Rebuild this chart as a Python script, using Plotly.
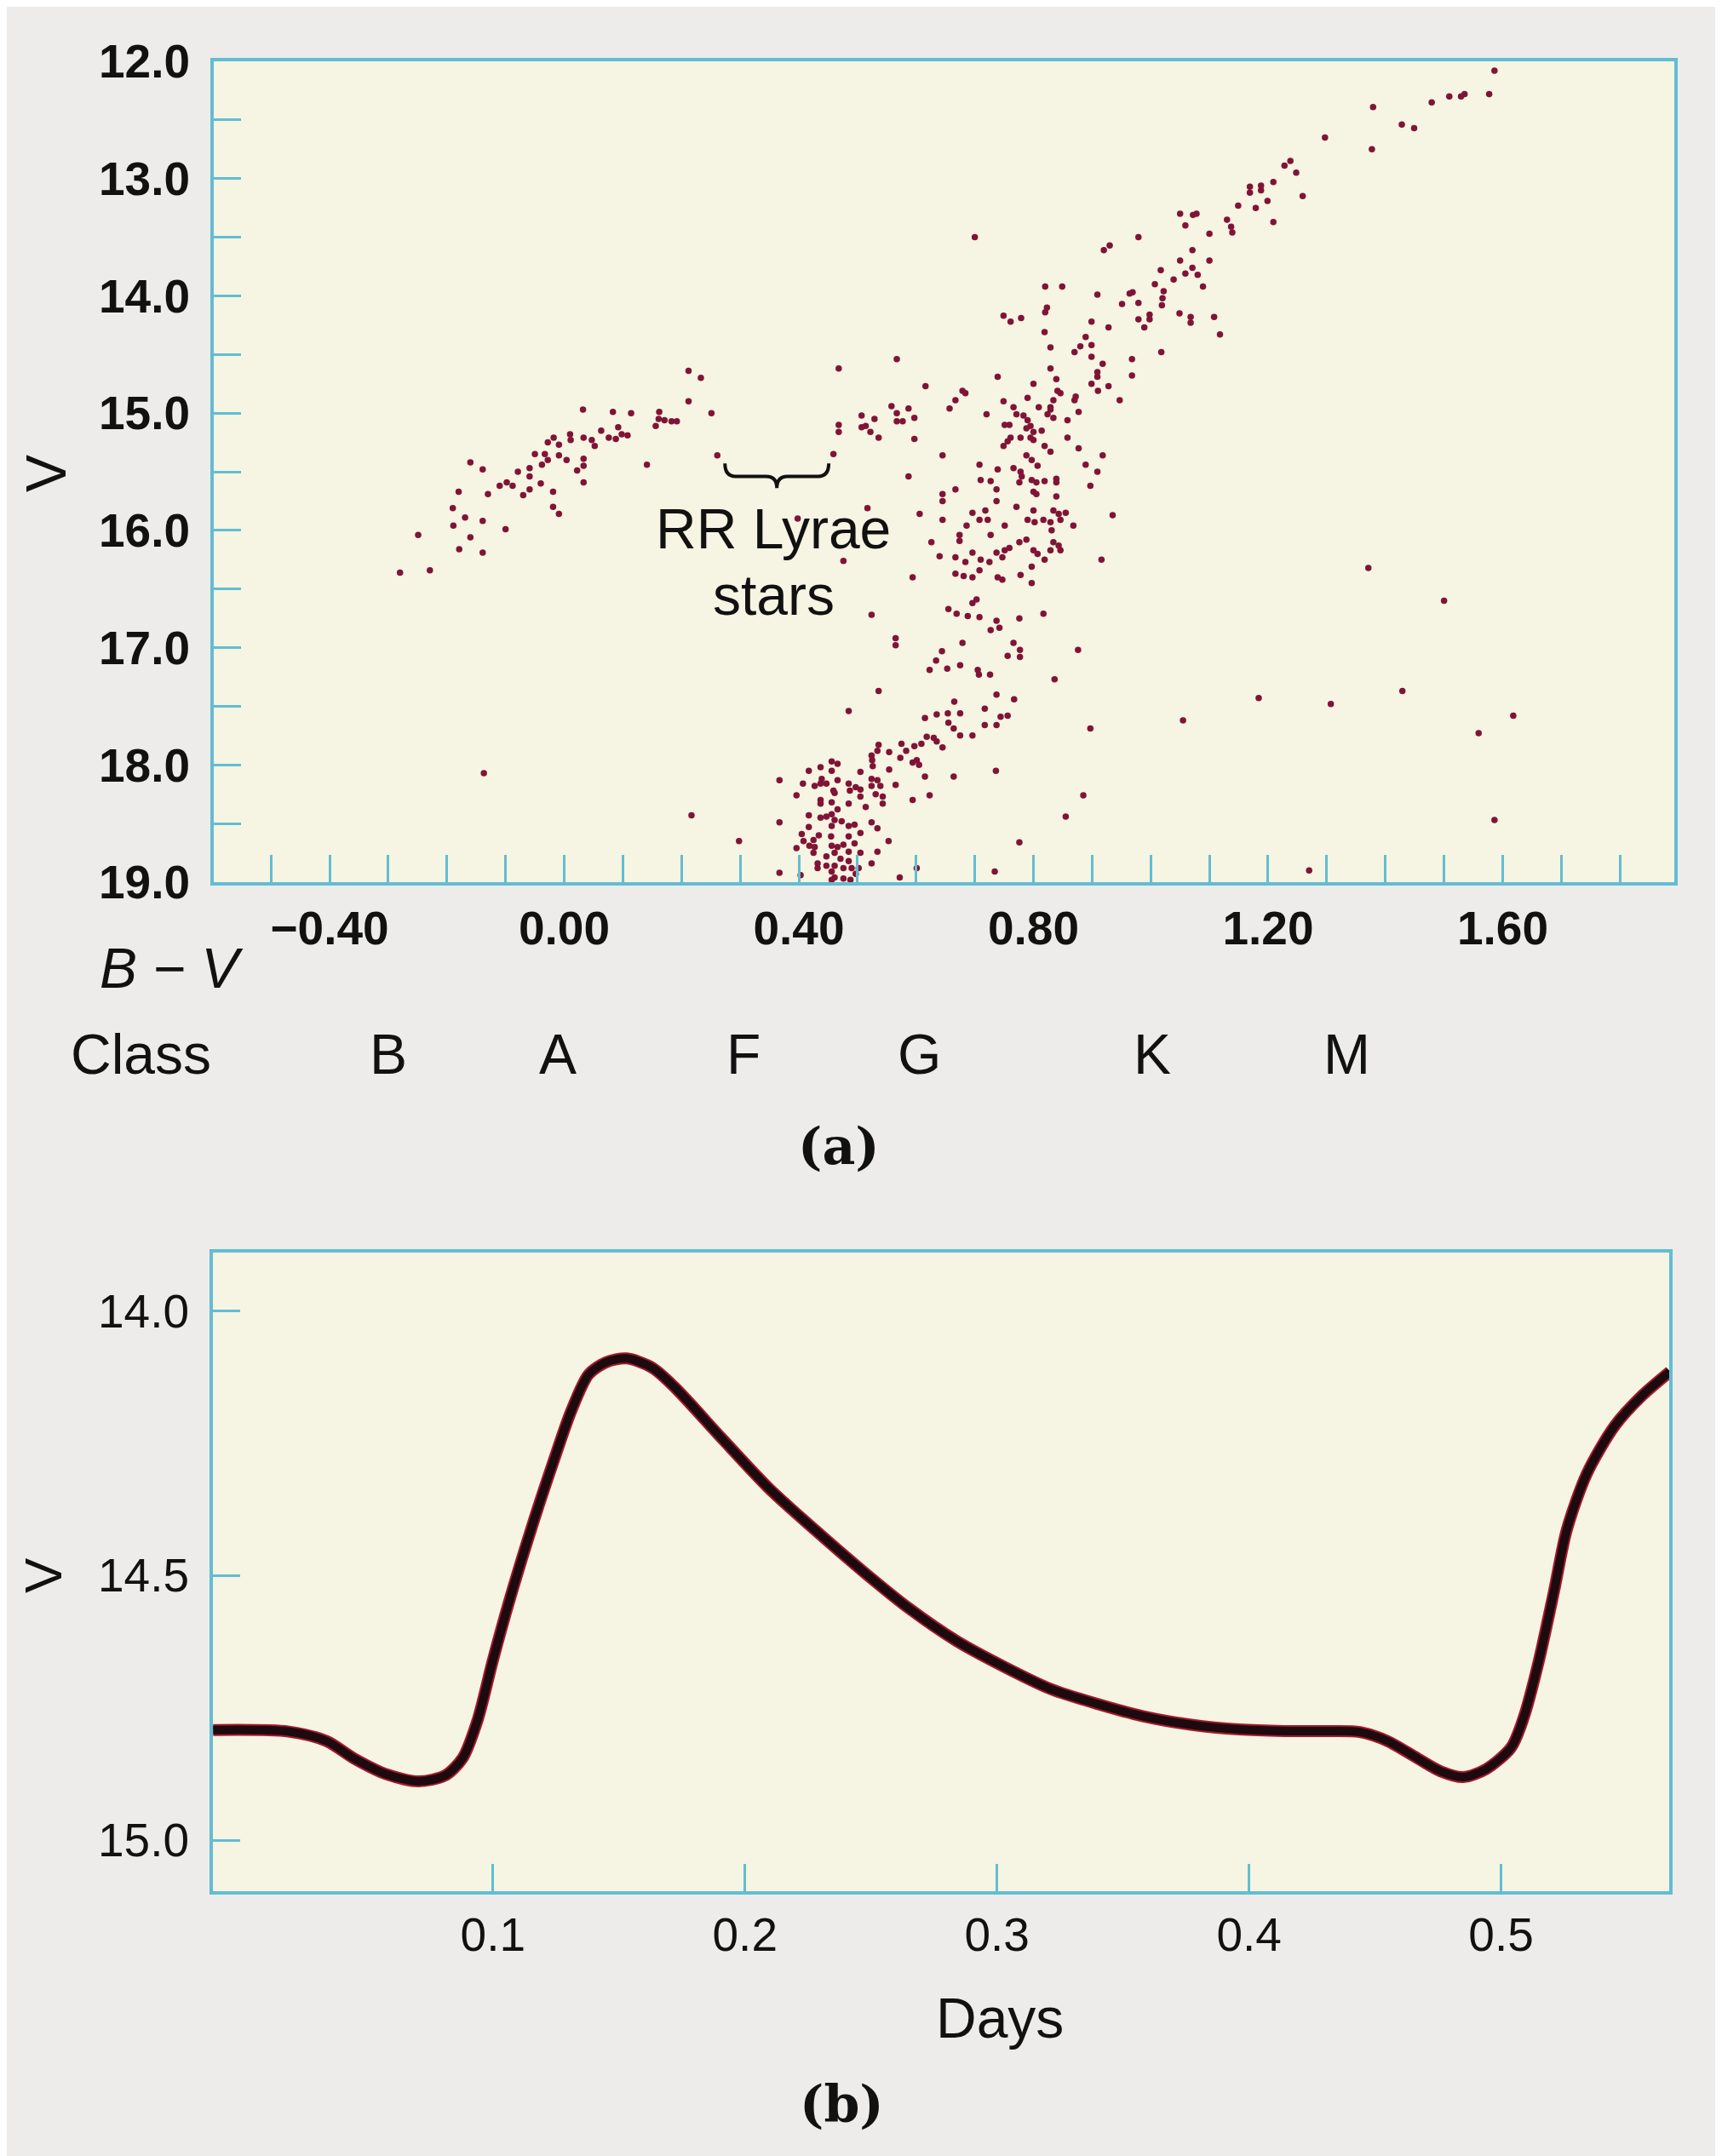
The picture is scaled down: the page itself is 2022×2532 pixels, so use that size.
import plotly.graph_objects as go

# ---------------- DATA ----------------
# (a) colour-magnitude diagram: (B-V, V) pairs
horizontal_branch = [
    (0.212,14.64),(0.233,14.70),(0.212,14.90),(0.251,15.00),(0.261,15.36),(0.141,15.44),(0.032,14.97),(0.083,14.99),(0.114,15.00),
    (0.162,14.99),(0.161,15.05),(0.156,15.11),(0.171,15.06),(0.183,15.07),(0.192,15.07),
    (0.063,15.15),(0.092,15.12),(0.076,15.21),(0.088,15.22),(0.098,15.18),(0.108,15.19),
    (0.033,15.21),(0.047,15.23),(0.052,15.28),(0.010,15.18),(0.011,15.23),
    (-0.018,15.21),(-0.028,15.25),(-0.009,15.27),
    (-0.050,15.35),(-0.033,15.35),(-0.028,15.40),(-0.038,15.44),(-0.009,15.36),(0.004,15.40),
    (0.033,15.39),(0.033,15.45),(0.022,15.49),(0.033,15.59),
    (-0.059,15.47),(-0.059,15.54),(-0.079,15.50),
    (-0.110,15.62),(-0.098,15.59),(-0.088,15.62),
    (-0.040,15.60),(-0.059,15.65),(-0.070,15.70),
    (-0.160,15.42),(-0.139,15.48),(-0.130,15.69),(-0.180,15.67),
    (-0.019,15.67),(-0.019,15.80),(-0.009,15.86),
    (-0.190,15.81),(-0.169,15.89),(-0.139,15.92),(-0.189,15.96),(-0.100,15.99),
    (-0.160,16.06),(-0.179,16.16),(-0.139,16.19),
    (-0.249,16.04),(-0.280,16.36),(-0.229,16.34),(0.398,15.90),
]
red_horizontal_branch = [
    (0.507,15.02),(0.529,15.05),(0.514,15.11),(0.507,15.12),(0.522,15.16),(0.536,15.21),(0.558,14.94),(0.567,15.00),
    (0.567,15.07),(0.577,15.07),(0.587,14.96),(0.597,15.04),(0.597,15.22),(0.468,15.10),(0.468,15.16),(0.459,15.35),
    (0.587,15.54),(0.645,15.36),(0.567,14.54),(0.468,14.62),(0.616,14.77),(0.679,14.81),(0.684,14.83),(0.667,14.89),
    (0.657,14.96),
]
upper_giant_branch = [
    (1.586,12.08),(1.535,12.28),(1.529,12.30),(1.509,12.30),(1.479,12.35),(1.577,12.28),(1.379,12.39),(1.428,12.54),
    (1.449,12.57),(1.297,12.65),(1.377,12.75),(1.238,12.85),(1.228,12.89),(1.248,12.95),(1.259,13.15),(1.209,13.03),
    (1.188,13.06),(1.188,13.10),(1.169,13.07),(1.169,13.12),(1.199,13.19),(1.179,13.25),(1.149,13.23),(1.209,13.37),
    (1.130,13.35),(1.137,13.41),(1.139,13.46),(1.050,13.30),(1.072,13.31),(1.078,13.30),(1.059,13.40),(1.100,13.47),
    (0.979,13.50),(0.930,13.57),(0.920,13.61),(1.071,13.61),(1.050,13.70),(1.100,13.70),(1.017,13.78),(1.059,13.81),
    (1.071,13.76),(1.080,13.82),(1.039,13.86),(1.089,13.92),(1.007,13.90),(1.022,13.96),(1.020,14.02),(1.019,14.08),
    (0.964,13.98),(0.969,13.97),(0.951,14.07),(0.979,14.06),(0.909,13.99),(0.820,13.92),(0.849,13.92),(0.823,14.10),
    (0.820,14.14),(0.749,14.17),(0.761,14.22),(0.779,14.19),(0.998,14.16),(0.998,14.20),(0.979,14.20),(1.049,14.15),
    (1.068,14.18),(1.068,14.23),(1.108,14.18),(0.899,14.22),(0.700,13.50),
    (0.819,14.31),(0.889,14.35),(0.899,14.42),(0.928,14.27),(0.989,14.27),(1.118,14.33),(0.829,14.44),(0.870,14.48),
    (0.880,14.43),(0.899,14.52),(0.918,14.58),(1.018,14.48),(0.968,14.54),(0.968,14.68),(0.909,14.65),(0.909,14.69),
    (0.899,14.75),(0.910,14.81),(0.928,14.77),(0.947,14.89),(0.829,14.62),(0.839,14.71),(0.841,14.81),(0.846,14.83),
    (0.872,14.86),(0.870,14.89),(0.834,14.89),(0.829,14.95),(0.809,14.95),(0.790,14.87),(0.800,14.75),(0.739,14.69),
    (0.720,15.01),(0.749,14.90),(0.766,14.95),
]
lower_giant_branch = [
    (0.771,15.01),(0.783,15.02),(0.790,15.06),(0.824,15.01),(0.834,15.04),(0.829,14.97),(0.751,15.10),(0.759,15.10),
    (0.761,15.21),(0.756,15.24),(0.749,15.28),(0.778,15.21),(0.788,15.13),(0.795,15.11),(0.800,15.16),(0.814,15.15),
    (0.795,15.21),(0.800,15.23),(0.819,15.28),(0.829,15.33),(0.858,15.06),(0.858,15.21),(0.877,14.99),(0.877,15.30),
    (0.918,15.36),(0.889,15.44),(0.909,15.50),(0.897,15.62),
    (0.788,15.36),(0.797,15.40),(0.807,15.45),(0.766,15.47),(0.778,15.50),(0.780,15.54),(0.776,15.59),(0.739,15.48),
    (0.708,15.44),(0.797,15.57),(0.805,15.59),(0.819,15.58),(0.839,15.56),(0.839,15.59),(0.800,15.67),(0.805,15.69),
    (0.839,15.71),(0.727,15.58),(0.710,15.57),(0.737,15.65),(0.737,15.75),(0.667,15.65),(0.645,15.69),(0.645,15.75),
    (0.771,15.80),(0.800,15.83),(0.834,15.83),(0.843,15.86),(0.855,15.85),(0.846,15.91),(0.868,15.96),(0.790,15.91),
    (0.802,15.93),(0.817,15.91),(0.829,15.93),(0.831,16.00),(0.718,15.83),(0.696,15.85),(0.708,15.91),(0.722,15.91),
    (0.751,15.96),(0.686,15.96),(0.674,16.04),(0.674,16.09),(0.727,16.04),(0.776,16.10),(0.788,16.08),(0.834,16.10),
    (0.800,16.17),(0.807,16.20),(0.819,16.25),(0.829,16.17),(0.846,16.17),(0.843,16.13),(0.916,16.25),(0.935,15.87),
    (0.645,15.91),(0.626,16.10),(0.640,16.22),(0.667,16.23),(0.684,16.27),(0.696,16.19),(0.710,16.25),(0.725,16.27),
    (0.737,16.19),(0.751,16.17),(0.759,16.15),(0.747,16.23),(0.797,16.31),(0.667,16.37),(0.681,16.39),(0.696,16.40),
    (0.708,16.34),(0.739,16.40),(0.747,16.42),(0.778,16.38),(0.797,16.45),(0.606,15.86),(0.594,16.40),(0.476,16.26),
    (0.517,15.81),(0.524,16.72),
    (0.703,16.59),(0.696,16.62),(0.655,16.67),(0.669,16.71),(0.688,16.73),(0.708,16.74),(0.737,16.77),(0.727,16.85),
    (0.742,16.83),(0.776,16.75),(0.817,16.71),(0.679,16.96),(0.766,16.96),(0.565,16.92),(0.565,16.98),
]
subgiant_branch = [
    (0.644,17.03),(0.634,17.11),(0.623,17.19),(0.653,17.18),(0.675,17.15),(0.705,17.19),(0.707,17.23),(0.726,17.23),
    (0.756,17.07),(0.777,17.02),(0.777,17.08),(0.876,17.02),(0.836,17.27),(0.536,17.37),(0.485,17.54),(0.665,17.46),
    (0.737,17.40),(0.767,17.44),(0.635,17.57),(0.615,17.60),(0.654,17.56),(0.675,17.56),(0.717,17.52),(0.655,17.64),
    (0.664,17.69),(0.717,17.66),(0.737,17.66),(0.744,17.59),(0.756,17.58),(0.675,17.75),(0.696,17.75),(0.897,17.69),
    (0.597,17.84),(0.609,17.82),(0.618,17.76),(0.630,17.77),(0.635,17.80),(0.645,17.85),(0.575,17.82),(0.583,17.88),
    (0.554,17.89),(0.536,17.83),(0.534,17.88),(0.524,17.92),(0.525,17.96),(0.526,18.01),(0.573,17.94),(0.594,17.98),
    (0.601,17.96),(0.605,18.00),(0.554,18.04),(0.615,18.10),(0.664,18.10),(0.736,18.05),(0.565,18.17),(0.623,18.26),
    (0.594,18.30),(0.885,18.26),(0.855,18.44),(0.776,18.66),(0.367,18.13),(0.367,18.49),(0.367,18.92),(0.396,18.26),
    (0.396,18.71),(0.403,18.94),
]
turnoff = [
    (0.456,17.97),(0.466,17.99),(0.437,18.02),(0.456,18.05),(0.417,18.05),(0.505,18.06),(0.439,18.12),(0.437,18.16),
    (0.447,18.16),(0.407,18.16),(0.427,18.18),(0.466,18.13),(0.485,18.16),(0.497,18.19),(0.487,18.22),(0.505,18.21),
    (0.524,18.12),(0.534,18.13),(0.524,18.18),(0.539,18.18),(0.531,18.25),(0.543,18.27),(0.505,18.27),(0.459,18.22),
    (0.461,18.24),(0.437,18.30),(0.437,18.33),(0.456,18.32),(0.485,18.33),(0.514,18.36),(0.543,18.33),(0.466,18.38),
    (0.417,18.43),(0.437,18.45),(0.447,18.44),(0.456,18.42),(0.461,18.47),(0.473,18.48),(0.485,18.52),(0.495,18.51),
    (0.456,18.52),(0.524,18.49),(0.534,18.54),(0.417,18.53),(0.405,18.59),(0.434,18.60),(0.455,18.61),(0.485,18.61),
    (0.505,18.58),(0.408,18.65),(0.425,18.64),(0.418,18.69),(0.427,18.70),(0.456,18.69),(0.466,18.70),(0.476,18.68),
    (0.495,18.67),(0.553,18.65),(0.425,18.75),(0.447,18.78),(0.461,18.75),(0.471,18.80),(0.485,18.74),(0.505,18.75),
    (0.534,18.74),(0.432,18.84),(0.447,18.86),(0.461,18.86),(0.485,18.82),(0.524,18.84),(0.432,18.88),(0.456,18.91),
    (0.476,18.88),(0.490,18.88),(0.502,18.88),(0.461,18.96),(0.476,18.97),(0.488,18.98),(0.497,18.93),(0.456,18.98),
    (0.572,18.96),(0.601,18.88),(0.734,18.91),
]
field_stars = [
    (0.298,18.65),(-0.137,18.07),(0.217,18.43),(1.371,16.32),(1.500,16.60),(1.429,17.37),(1.184,17.43),(1.307,17.48),
    (1.618,17.58),(1.559,17.73),(1.055,17.62),(1.586,18.47),(1.270,18.90),
]

bv_tick_values = [round(-0.5 + 0.1 * i, 1) for i in range(24)]
bv_tick_labels = {-0.4: "\u22120.40", 0.0: "0.00", 0.4: "0.40", 0.8: "0.80", 1.2: "1.20", 1.6: "1.60"}
v_tick_values = [12.0 + 0.5 * i for i in range(15)]
v_tick_labels = {12.0: "12.0", 13.0: "13.0", 14.0: "14.0", 15.0: "15.0", 16.0: "16.0", 17.0: "17.0", 18.0: "18.0", 19.0: "19.0"}
spectral_classes = ["B", "A", "F", "G", "K", "M"]
spectral_class_bv = [-0.300, -0.011, 0.306, 0.606, 1.003, 1.335]

# (b) RR Lyrae light curve
days = [-0.011, 0.019, 0.034, 0.045, 0.058, 0.0705, 0.081, 0.088, 0.094, 0.1, 0.107, 0.116, 0.124, 0.131, 0.138,
        0.145, 0.153, 0.163, 0.172, 0.191, 0.209, 0.228, 0.247, 0.265, 0.284, 0.303, 0.321, 0.340, 0.358, 0.377,
        0.396, 0.414, 0.433, 0.444, 0.455, 0.467, 0.476, 0.485, 0.494, 0.504, 0.509, 0.515, 0.521, 0.526, 0.534,
        0.545, 0.556, 0.567]
light_curve_v = [14.792, 14.795, 14.813, 14.846, 14.876, 14.889, 14.878, 14.845, 14.772, 14.66, 14.54, 14.40, 14.285,
                 14.19, 14.12, 14.097, 14.090, 14.107, 14.144, 14.242, 14.333, 14.415, 14.493, 14.562, 14.624, 14.673,
                 14.714, 14.743, 14.766, 14.782, 14.791, 14.794, 14.794, 14.796, 14.813, 14.846, 14.870, 14.881,
                 14.866, 14.825, 14.768, 14.661, 14.530, 14.415, 14.308, 14.218, 14.160, 14.115]
day_tick_values = [0.1, 0.2, 0.3, 0.4, 0.5]
day_tick_labels = ["0.1", "0.2", "0.3", "0.4", "0.5"]
lc_tick_values = [14.0, 14.5, 15.0]
lc_tick_labels = ["14.0", "14.5", "15.0"]

# ---------------- STYLE / LAYOUT ----------------
W, H = 2022, 2532
OFF = 8  # page body margin
BLUE = "#62bdd2"
DOT = "#801436"
PAPER = "#edecea"
PLOTBG = "#f6f4e2"
SANS = "Liberation Sans"

def fx(p):
    return (p - OFF) / W

def fy(p):
    return 1 - (p - OFF) / H

cmd_points = (horizontal_branch + red_horizontal_branch + upper_giant_branch + lower_giant_branch
              + subgiant_branch + turnoff + field_stars)
bv = [p[0] for p in cmd_points]
vm = [p[1] for p in cmd_points]

fig = go.Figure()
fig.add_trace(go.Scatter(x=bv, y=vm, mode="markers", xaxis="x", yaxis="y",
                         marker=dict(size=7.5, color=DOT, line=dict(width=0)), showlegend=False, hoverinfo="skip"))
fig.add_trace(go.Scatter(x=days, y=light_curve_v, mode="lines", xaxis="x2", yaxis="y2",
                         line=dict(color="#a3182c", width=14, shape="spline", smoothing=0.8), showlegend=False))
fig.add_trace(go.Scatter(x=days, y=light_curve_v, mode="lines", xaxis="x2", yaxis="y2",
                         line=dict(color="#1c0a0e", width=10, shape="spline", smoothing=0.8), showlegend=False))

top_font = dict(family=SANS, size=55, color="#111111", weight="bold")
bottom_font = dict(family=SANS, size=55, color="#111111", weight="normal")
axis_common = dict(showline=True, linecolor=BLUE, linewidth=4, mirror=True, ticks="inside", ticklen=32,
                   tickwidth=2.5, tickcolor=BLUE, showgrid=False, zeroline=False, automargin=False)

fig.update_layout(
    width=W, height=H, margin=dict(l=0, r=0, t=0, b=0, pad=0), autosize=False,
    paper_bgcolor=PAPER, plot_bgcolor=PLOTBG, showlegend=False,
    font=dict(family=SANS, color="#111111"),
    xaxis=dict(domain=[fx(251), fx(1966)], range=[-0.5975, 1.8926], anchor="y",
               tickmode="array", tickvals=bv_tick_values,
               ticktext=[bv_tick_labels.get(v, "") for v in bv_tick_values],
               ticklabelstandoff=3, tickfont=top_font, **axis_common),
    yaxis=dict(domain=[fy(1036), fy(72)], range=[19.0, 12.0], anchor="x",
               tickmode="array", tickvals=v_tick_values,
               ticktext=[v_tick_labels.get(v, "") for v in v_tick_values],
               ticklabelstandoff=13, tickfont=top_font, **axis_common),
    xaxis2=dict(domain=[fx(250), fx(1960)], range=[-0.0111, 0.5667], anchor="y2",
                tickmode="array", tickvals=day_tick_values, ticktext=day_tick_labels,
                ticklabelstandoff=0, tickfont=bottom_font, **axis_common),
    yaxis2=dict(domain=[fy(2221), fy(1471)], range=[15.0965, 13.890], anchor="x2",
                tickmode="array", tickvals=lc_tick_values, ticktext=lc_tick_labels,
                ticklabelstandoff=13, tickfont=bottom_font, **axis_common),
)

ann = []
def text(x, y, s, size, xanchor="center", angle=0, family=SANS, weight="normal", xref="paper", yref="paper"):
    ann.append(dict(x=x, y=y, xref=xref, yref=yref, text=s, showarrow=False, xanchor=xanchor, yanchor="middle",
                    textangle=angle, font=dict(family=family, size=size, color="#111111", weight=weight)))

text(fx(54), fy(556), "V", 66, angle=-90)
text(fx(50), fy(1850), "V", 62, angle=-90)
text(fx(288), fy(1137), "<i>B \u2212 V</i>", 66, xanchor="right")
text(fx(250), fy(1238), "Class", 66, xanchor="right")
for lab, xv in zip(spectral_classes, spectral_class_bv):
    text(xv, fy(1238), lab, 66, xref="x")
text(0.3565, 15.99, "RR Lyrae", 66, xref="x", yref="y")
text(0.3565, 16.55, "stars", 66, xref="x", yref="y")
text(fx(985), fy(1346), "(a)", 60, family="DejaVu Serif", weight="bold")
text(fx(1174), fy(2370), "Days", 66)
text(fx(988), fy(2471), "(b)", 60, family="DejaVu Serif", weight="bold")
fig.update_layout(annotations=ann)

# curly brace over the RR Lyrae gap
bx0, bx1, by0, by1, bym = 0.274, 0.451, 15.43, 15.64, 15.54
bxm = (bx0 + bx1) / 2
cw = 0.018
brace = (f"M {bx0},{by0} Q {bx0},{bym} {bx0+cw},{bym} L {bxm-cw},{bym} Q {bxm},{bym} {bxm},{by1} "
         f"Q {bxm},{bym} {bxm+cw},{bym} L {bx1-cw},{bym} Q {bx1},{bym} {bx1},{by0}")
fig.add_shape(type="path", path=brace, xref="x", yref="y", line=dict(color="#111111", width=4))

fig.write_html("out.html")
